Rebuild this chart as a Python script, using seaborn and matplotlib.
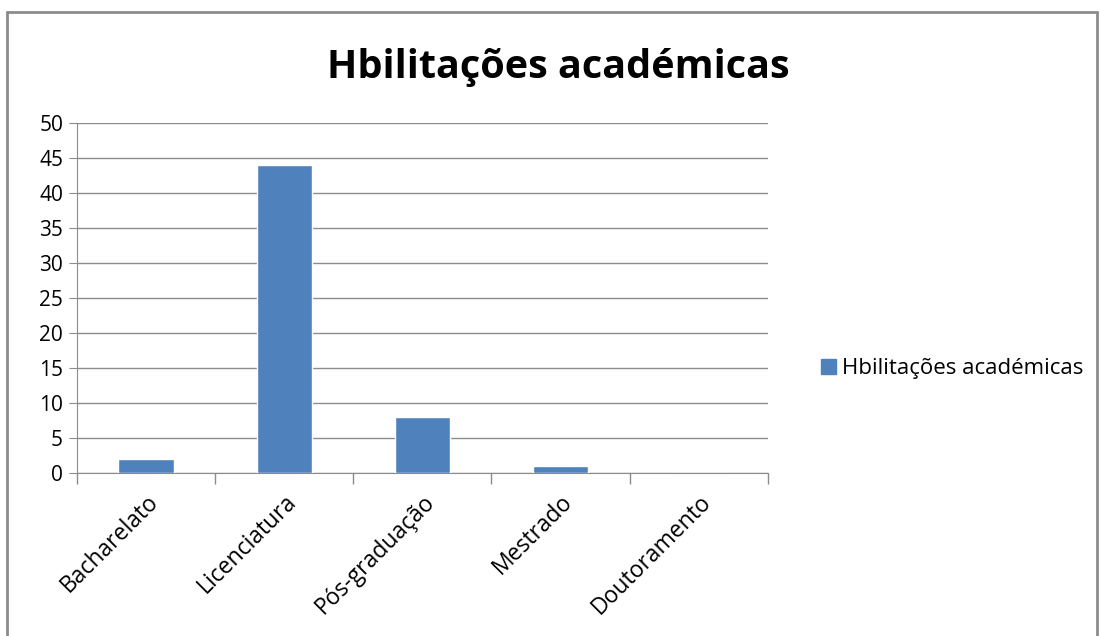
import matplotlib
matplotlib.use("Agg")
import matplotlib.pyplot as plt
import seaborn as sns
from matplotlib.lines import Line2D
from matplotlib.patches import Patch

categories = ["Bacharelato", "Licenciatura", "Pós-graduação", "Mestrado", "Doutoramento"]
values = [2, 44, 8, 1, 0]
series_name = "Hbilitações académicas"
y_ticks = [0, 5, 10, 15, 20, 25, 30, 35, 40, 45, 50]

sns.set_style("white")
plt.rcParams["font.family"] = ["Open Sans", "DejaVu Sans"]
plt.rcParams["text.color"] = "black"

bar_color = "#4F81BD"
grid_color = "#8C8C8C"

fig = plt.figure(figsize=(11, 6.36), dpi=100)
ax = fig.add_axes([0.07, 0.2563, 0.628, 0.5503])

sns.barplot(x=categories, y=values, color=bar_color, saturation=1, width=0.4,
            ax=ax, zorder=3)

ax.set_ylim(0, 50)
ax.set_yticks(y_ticks)
ax.set_xlim(-0.5, len(categories) - 0.5)
ax.yaxis.grid(True, color=grid_color, linewidth=1)
ax.set_axisbelow(True)

for side in ["top", "right"]:
    ax.spines[side].set_visible(False)
ax.spines["left"].set_color(grid_color)
ax.spines["bottom"].set_color(grid_color)

ax.set_xticks([i - 0.5 for i in range(len(categories) + 1)], minor=True)
ax.tick_params(axis="x", which="minor", bottom=True, length=8, color=grid_color, width=1)
ax.tick_params(axis="x", which="major", length=0, pad=12, labelcolor="black")
ax.tick_params(axis="y", left=True, length=6, color=grid_color, labelsize=15,
               pad=4, labelcolor="black")
ax.set_xticklabels(categories, rotation=45, ha="right", rotation_mode="anchor",
                   fontsize=16.5, color="black")
ax.set_xlabel("")
ax.set_ylabel("")

fig.suptitle(series_name, x=0.508, y=0.925, fontsize=28.5, fontweight="bold", color="black")

handles = [Patch(facecolor=bar_color, edgecolor=bar_color)]
fig.legend(handles, [series_name], loc="center left", bbox_to_anchor=(0.728, 0.42),
           frameon=False, fontsize=16, handlelength=0.7, handleheight=0.7,
           handletextpad=0.25)

# chart frame
border = dict(color="#8C8C8C", linewidth=2, transform=fig.transFigure)
fig.add_artist(Line2D([0.006, 0.006], [0.0, 0.981], **border))
fig.add_artist(Line2D([0.006, 0.997], [0.981, 0.981], **border))
fig.add_artist(Line2D([0.997, 0.997], [0.0, 0.981], **border))

fig.savefig("out.png", dpi=100, facecolor="white")
